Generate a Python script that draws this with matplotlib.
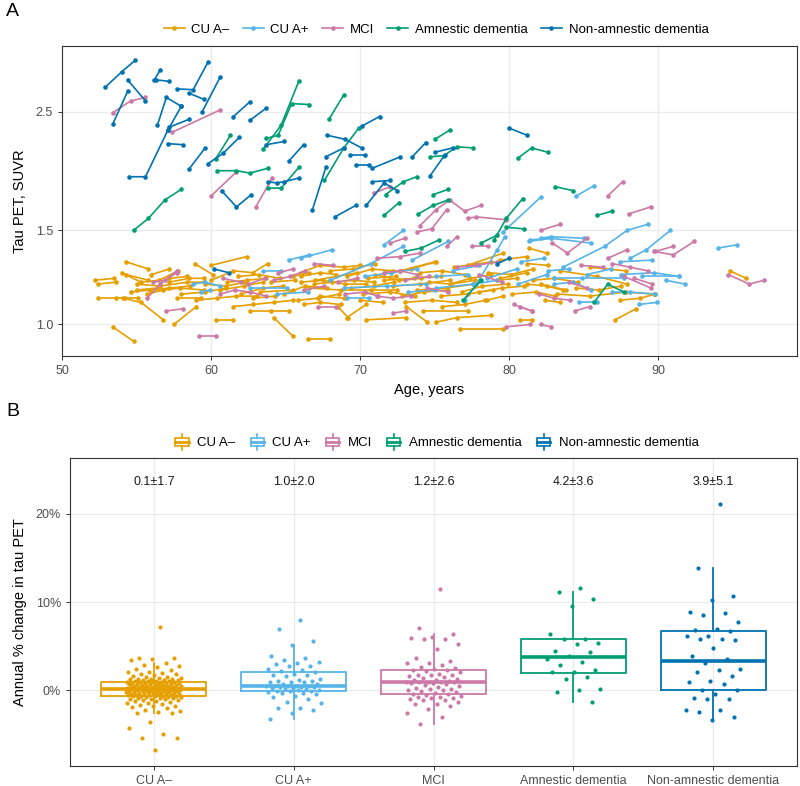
import numpy as np
import matplotlib
matplotlib.use("Agg")
import matplotlib.pyplot as plt
from matplotlib.lines import Line2D
from matplotlib.patches import Rectangle
from matplotlib.legend_handler import HandlerBase
import matplotlib.ticker as mticker

plt.rcParams['font.family'] = ['Liberation Sans', 'DejaVu Sans']

groups = ["CU A\u2013", "CU A+", "MCI", "Amnestic dementia", "Non-amnestic dementia"]
colors = ["#E69F00", "#56B4E9", "#CC79A7", "#009E73", "#0072B2"]

# --- Panel A: one list of (age, SUVR) visits per participant ---
traj_cu_neg = [
    [(54.3, 1.31), (55.8, 1.27)], [(52.2, 1.21), (53.5, 1.22)], [(52.4, 1.19), (53.6, 1.20)],
    [(54.0, 1.25), (55.3, 1.20), (56.5, 1.21), (57.8, 1.26)], [(54.3, 1.24), (55.8, 1.21)],
    [(52.4, 1.12), (53.6, 1.12), (54.2, 1.12), (55.1, 1.12)],
    [(54.6, 1.15), (55.9, 1.16), (57.2, 1.17), (58.6, 1.18)],
    [(54.1, 1.12), (55.3, 1.10), (56.8, 1.02)], [(57.5, 1.00), (59.0, 1.08)],
    [(58.9, 1.30), (60.1, 1.24)], [(60.0, 1.29), (62.4, 1.34)], [(60.3, 1.02), (61.5, 1.02)],
    [(53.4, 0.99), (54.8, 0.93)], [(55.7, 1.14), (56.8, 1.16), (57.9, 1.17), (59.5, 1.16)],
    [(55.0, 1.19), (56.6, 1.18), (58.4, 1.20), (59.5, 1.20)],
    [(59.0, 1.11), (60.4, 1.12), (61.7, 1.13), (63.1, 1.13)],
    [(61.5, 1.08), (62.8, 1.09), (64.2, 1.10), (65.5, 1.11)],
    [(62.6, 1.06), (64.0, 1.06), (65.2, 1.06)], [(64.2, 1.03), (65.5, 0.95)],
    [(60.0, 1.21), (61.5, 1.26), (62.8, 1.25), (63.8, 1.30)],
    [(60.6, 1.16), (62.2, 1.18), (63.5, 1.20)], [(66.2, 1.09), (67.3, 1.10), (68.7, 1.09)],
    [(68.5, 1.08), (69.2, 1.03)], [(70.4, 1.02), (73.1, 1.03)], [(74.2, 1.06), (77.2, 1.06)],
    [(73.1, 1.08), (74.5, 1.01)], [(75.1, 1.01), (76.5, 1.03), (78.8, 1.04)],
    [(76.7, 0.98), (79.6, 0.98)], [(87.1, 1.02), (88.5, 1.07)], [(81.3, 1.39), (82.5, 1.36)],
    [(81.2, 1.30), (82.6, 1.29)], [(79.4, 1.32), (81.2, 1.34)], [(72.7, 1.26), (75.0, 1.31)],
    [(66.0, 1.25), (67.3, 1.29), (68.9, 1.28), (70.0, 1.29)],
    [(66.0, 1.20), (67.5, 1.21), (69.0, 1.19), (70.4, 1.19)],
    [(66.6, 1.17), (68.7, 1.16), (70.7, 1.16), (72.5, 1.16)],
    [(69.1, 1.23), (70.8, 1.27), (72.2, 1.26)], [(71.6, 1.21), (73.6, 1.22), (75.4, 1.23)],
    [(73.8, 1.16), (75.8, 1.17), (77.6, 1.19)], [(75.4, 1.13), (77.2, 1.14), (78.9, 1.16)],
    [(76.3, 1.28), (78.8, 1.31)], [(78.5, 1.11), (79.6, 1.13)],
    [(83.4, 1.26), (85.9, 1.23), (87.9, 1.19)], [(85.4, 1.28), (87.8, 1.26)],
    [(81.2, 1.19), (82.5, 1.18), (83.6, 1.16)], [(82.4, 1.11), (83.4, 1.10)],
    [(83.2, 1.14), (85.4, 1.13), (87.8, 1.15), (89.7, 1.14)],
    [(87.4, 1.11), (88.8, 1.12), (89.8, 1.14)], [(80.7, 1.02), (81.5, 1.02)],
    [(94.8, 1.26), (95.9, 1.22)], [(82.1, 1.19), (83.8, 1.16)], [(66.5, 0.94), (68.0, 0.94)],
    [(69.1, 1.03), (70.4, 1.09)], [(66.0, 1.23), (67.3, 1.25), (68.4, 1.24)],
    [(66.9, 1.19), (68.1, 1.20), (69.6, 1.21), (70.9, 1.20)], [(67.3, 1.13), (68.9, 1.12)],
    [(71.6, 1.25), (73.4, 1.27), (75.1, 1.31)], [(77.2, 1.29), (79.6, 1.36)],
    [(72.2, 1.18), (74.0, 1.19), (76.0, 1.21)], [(79.4, 1.22), (81.2, 1.25)],
    [(55.0, 1.16), (56.4, 1.17)], [(57.2, 1.20), (58.5, 1.22), (59.5, 1.22)],
    [(57.7, 1.12), (59.3, 1.12)], [(61.1, 1.20), (62.4, 1.21), (63.7, 1.22)],
    [(63.3, 1.15), (65.5, 1.16)], [(65.5, 1.23), (66.6, 1.25)], [(57.2, 1.22), (58.4, 1.23)],
    [(79.2, 1.21), (80.5, 1.22)], [(62.0, 1.14), (63.5, 1.17), (64.8, 1.18)],
    [(68.0, 1.26), (69.5, 1.27), (71.0, 1.30)], [(70.2, 1.14), (72.0, 1.15), (73.7, 1.13)],
    [(74.0, 1.25), (75.5, 1.26), (77.0, 1.24)], [(76.0, 1.19), (77.4, 1.22), (78.8, 1.24)],
    [(78.0, 1.15), (79.5, 1.17), (81.0, 1.18)], [(56.0, 1.24), (57.2, 1.27)],
    [(58.0, 1.14), (59.6, 1.15), (61.0, 1.17)], [(64.0, 1.20), (65.6, 1.21)],
    [(84.5, 1.17), (86.0, 1.16), (87.5, 1.18)], [(70.5, 1.22), (72.4, 1.23)],
    [(73.0, 1.10), (74.8, 1.11), (76.5, 1.10)],
    [(61.8, 1.23), (63.2, 1.24), (64.6, 1.22)], [(64.9, 1.14), (66.3, 1.18), (67.8, 1.17)],
    [(67.0, 1.21), (68.4, 1.23), (69.8, 1.25)], [(69.4, 1.17), (70.9, 1.18), (72.3, 1.20)],
    [(71.0, 1.24), (72.6, 1.21), (74.1, 1.22)], [(72.8, 1.13), (74.3, 1.15), (75.9, 1.16)],
    [(74.6, 1.20), (76.1, 1.19), (77.7, 1.21)], [(76.8, 1.15), (78.2, 1.18), (79.9, 1.19)],
    [(78.6, 1.25), (80.1, 1.24), (81.6, 1.27)], [(80.2, 1.14), (81.8, 1.15), (83.1, 1.13)],
    [(62.8, 1.12), (64.3, 1.13)], [(59.6, 1.19), (61.0, 1.18), (62.3, 1.20)],
    [(65.8, 1.11), (67.2, 1.12), (68.6, 1.14)], [(70.0, 1.11), (71.5, 1.10)],
    [(75.5, 1.08), (77.0, 1.09), (78.4, 1.11)], [(81.6, 1.21), (83.0, 1.22), (84.6, 1.20)],
]

traj_cu_pos = [
    [(84.5, 1.74), (85.7, 1.82)], [(83.6, 1.28), (86.4, 1.40), (87.9, 1.50), (89.3, 1.54)],
    [(87.4, 1.31), (89.6, 1.32)], [(88.1, 1.33), (89.2, 1.38), (90.8, 1.50)],
    [(87.5, 1.24), (89.7, 1.25), (91.4, 1.23)], [(90.5, 1.21), (91.8, 1.19)],
    [(94.0, 1.39), (95.3, 1.41)], [(86.9, 1.15), (88.1, 1.15), (89.8, 1.14)],
    [(84.7, 1.10), (85.9, 1.10)], [(88.7, 1.09), (89.9, 1.10)],
    [(82.1, 1.45), (82.8, 1.46), (85.0, 1.45)], [(83.0, 1.19), (84.3, 1.20), (85.5, 1.16)],
    [(83.0, 1.22), (84.9, 1.22), (87.7, 1.22)], [(79.6, 1.49), (82.1, 1.73)],
    [(81.4, 1.44), (82.8, 1.45), (85.5, 1.42)], [(88.9, 1.23), (91.4, 1.23)],
    [(66.0, 1.33), (68.1, 1.38)], [(68.0, 1.21), (70.7, 1.30), (72.9, 1.40)],
    [(73.5, 1.32), (75.9, 1.43)], [(69.1, 1.12), (70.6, 1.12)],
    [(68.9, 1.17), (71.8, 1.18), (74.4, 1.19)], [(75.1, 1.17), (77.6, 1.19), (79.2, 1.21)],
    [(77.0, 1.11), (77.8, 1.19), (79.2, 1.38), (79.7, 1.46)], [(81.3, 1.43), (82.8, 1.45)],
    [(78.5, 1.22), (80.5, 1.27)], [(80.6, 1.19), (82.5, 1.24)], [(75.1, 1.23), (77.2, 1.24)],
    [(58.8, 1.19), (59.6, 1.20), (60.6, 1.18)], [(59.3, 1.15), (59.9, 1.16)],
    [(63.5, 1.26), (64.7, 1.26)], [(62.6, 1.17), (65.1, 1.17)], [(65.2, 1.32), (66.6, 1.35)],
    [(64.4, 1.14), (66.5, 1.15)], [(71.6, 1.41), (72.9, 1.50)], [(82.6, 1.26), (84.0, 1.27)],
    [(70.3, 1.23), (72.1, 1.25), (73.8, 1.27)], [(73.2, 1.15), (75.0, 1.16)],
    [(76.2, 1.26), (78.0, 1.29)], [(80.8, 1.31), (82.3, 1.33)], [(85.2, 1.24), (86.8, 1.27)],
]

traj_mci = [
    [(53.4, 2.49), (54.6, 2.62), (55.6, 2.66)], [(57.4, 2.29), (60.6, 2.52)],
    [(60.0, 1.74), (61.7, 1.93)], [(63.0, 1.66), (64.1, 1.88)], [(70.9, 1.76), (72.0, 1.81)],
    [(74.0, 1.53), (75.1, 1.64), (76.0, 1.71), (77.0, 1.63), (78.1, 1.67)],
    [(73.8, 1.49), (74.8, 1.51), (75.8, 1.64)], [(77.2, 1.58), (77.8, 1.59), (79.8, 1.57)],
    [(86.6, 1.74), (87.6, 1.85)], [(88.0, 1.61), (89.5, 1.66)], [(82.1, 1.50), (83.4, 1.54)],
    [(82.9, 1.42), (83.9, 1.36), (85.2, 1.45)], [(86.6, 1.33), (87.9, 1.38)],
    [(89.7, 1.37), (91.0, 1.35), (92.4, 1.43)], [(89.8, 1.37), (91.0, 1.40)],
    [(94.7, 1.24), (96.1, 1.19), (97.1, 1.21)], [(84.8, 1.29), (86.3, 1.28)],
    [(86.9, 1.30), (88.1, 1.28), (89.3, 1.26)], [(87.7, 1.23), (89.5, 1.17)],
    [(84.4, 1.06), (85.4, 1.08)], [(82.1, 1.00), (82.8, 0.99)],
    [(82.0, 1.14), (83.0, 1.12), (84.1, 1.11)], [(80.7, 1.08), (81.5, 1.06)],
    [(72.0, 1.42), (73.0, 1.45)], [(71.1, 1.33), (72.7, 1.34), (74.0, 1.36)],
    [(67.2, 1.08), (68.4, 1.08)], [(80.3, 1.09), (81.5, 1.06)], [(79.8, 0.99), (81.4, 1.00)],
    [(75.8, 1.40), (76.5, 1.46)], [(77.5, 1.40), (78.6, 1.40)],
    [(71.6, 1.25), (72.7, 1.26), (73.8, 1.24)], [(71.1, 1.13), (72.2, 1.12), (73.4, 1.13)],
    [(76.5, 1.28), (77.8, 1.29), (79.2, 1.31)], [(72.2, 1.05), (73.1, 1.06)],
    [(55.7, 1.12), (56.6, 1.19), (57.7, 1.26)], [(56.1, 1.20), (56.9, 1.21), (57.7, 1.25)],
    [(57.0, 1.06), (58.1, 1.07)], [(59.2, 0.95), (60.3, 0.95)],
    [(60.6, 1.14), (61.6, 1.16), (62.6, 1.15), (63.7, 1.13)],
    [(64.2, 1.21), (65.3, 1.23), (66.3, 1.26)], [(64.5, 1.25), (65.5, 1.27)],
    [(66.9, 1.30), (68.2, 1.29)], [(68.5, 1.20), (69.8, 1.22)], [(74.5, 1.17), (75.9, 1.15)],
    [(78.0, 1.24), (79.5, 1.20)], [(69.0, 1.14), (70.3, 1.15), (71.2, 1.13)],
    [(62.5, 1.19), (63.6, 1.22)], [(84.0, 1.20), (85.2, 1.17)], [(88.4, 1.22), (89.6, 1.19)],
    [(60.8, 1.22), (62.0, 1.20)], [(66.2, 1.16), (67.6, 1.18)], [(73.0, 1.21), (74.6, 1.23)],
]

traj_amn = [
    [(54.8, 1.50), (55.8, 1.58), (56.9, 1.71), (58.0, 1.79)],
    [(60.4, 1.94), (61.7, 1.94), (62.6, 1.92), (63.8, 1.96)], [(60.3, 2.04), (61.3, 2.26)],
    [(63.5, 2.13), (64.7, 2.36), (65.9, 2.86)],
    [(63.7, 2.23), (64.5, 2.26), (65.4, 2.59), (66.6, 2.58)],
    [(63.8, 1.80), (64.7, 1.80), (65.9, 1.97)], [(67.9, 2.42), (68.9, 2.69)],
    [(67.6, 1.86), (68.9, 2.14), (69.9, 2.33)], [(71.6, 1.60), (72.6, 1.69)],
    [(71.7, 1.75), (72.9, 1.85), (73.8, 1.89)], [(75.0, 2.22), (76.0, 2.31)],
    [(74.7, 2.06), (75.6, 2.07), (76.5, 2.15), (77.6, 2.14)], [(74.9, 1.75), (75.9, 1.79)],
    [(73.9, 1.61), (74.9, 1.67), (75.9, 1.71)], [(80.6, 2.05), (81.5, 2.14), (82.6, 2.10)],
    [(79.0, 1.44), (79.8, 1.58), (80.9, 1.72)], [(79.8, 1.52), (81.0, 1.51)],
    [(83.1, 1.81), (84.3, 1.78)], [(85.9, 1.60), (86.9, 1.63)],
    [(85.7, 1.10), (86.6, 1.19), (87.7, 1.15)], [(73.0, 1.37), (74.1, 1.39), (75.3, 1.44)],
    [(76.9, 1.11), (78.1, 1.21)], [(78.1, 1.42), (79.2, 1.47)],
]

traj_nonamn = [
    [(52.9, 2.78), (54.0, 2.97), (54.9, 3.12)], [(53.4, 2.37), (54.4, 2.73)],
    [(54.4, 2.87), (55.6, 2.62)], [(56.2, 2.87), (56.6, 3.00)], [(56.3, 2.87), (57.2, 2.85)],
    [(56.4, 2.36), (57.0, 2.66), (58.0, 2.56)], [(57.7, 2.76), (58.8, 2.75), (59.8, 3.10)],
    [(58.5, 2.71), (59.5, 2.64)], [(57.1, 2.31), (58.0, 2.56)], [(57.2, 2.34), (58.5, 2.42)],
    [(59.4, 2.50), (60.6, 2.90)], [(54.5, 1.89), (55.6, 1.89), (57.1, 2.31)],
    [(57.1, 2.18), (58.1, 2.17)], [(58.5, 1.95), (59.6, 2.14)], [(61.5, 2.45), (62.6, 2.61)],
    [(62.6, 2.41), (63.7, 2.54)], [(59.8, 2.00), (60.8, 2.09), (61.9, 2.24)],
    [(60.7, 1.78), (61.7, 1.66), (62.7, 1.75)], [(63.7, 2.17), (64.9, 2.20)],
    [(65.2, 2.02), (66.2, 2.17)], [(63.8, 1.85), (64.4, 1.84), (64.9, 1.85), (65.9, 1.88)],
    [(67.8, 2.26), (69.0, 2.22), (70.1, 2.14)], [(67.7, 2.06), (68.9, 2.14)],
    [(70.1, 2.35), (71.3, 2.45)], [(69.3, 2.08), (70.3, 2.08)], [(66.8, 1.64), (67.7, 1.97)],
    [(69.7, 1.99), (70.6, 1.99)], [(70.8, 1.96), (72.7, 2.06)], [(73.5, 2.06), (74.4, 2.19)],
    [(75.0, 2.10), (76.2, 2.14)], [(74.7, 1.90), (75.7, 2.08)], [(68.3, 1.59), (69.7, 1.67)],
    [(70.4, 1.67), (71.6, 1.84), (72.5, 1.78)], [(70.8, 1.85), (72.0, 1.86)],
    [(80.0, 2.33), (81.2, 2.26)], [(79.2, 1.30), (80.0, 1.33)], [(60.2, 1.27), (61.2, 1.25)],
]

# --- Panel B: annual % change in tau PET per participant ---
chg_cu_neg = [
    7.2, 3.7, 3.7, 3.6, 3.5, 3.05, 2.9, 2.8, 2.6, 2.4, 2.35, 2.1, 2.05, 2.0, 1.9, 1.85, 1.7,
    1.62, 1.55, 1.5, 1.44, 1.38, 1.3, 1.3, 1.27, 1.25, 1.2, 1.16, 1.15, 1.12, 1.1, 1.06, 1.04,
    1.01, 1.0,
    0.97, 0.93, 0.9, 0.88, 0.86, 0.84, 0.8, 0.77, 0.74, 0.72, 0.7, 0.69, 0.65, 0.61, 0.6, 0.57,
    0.55, 0.53, 0.5, 0.48, 0.46, 0.44, 0.43, 0.41, 0.38, 0.36, 0.35, 0.33, 0.31, 0.3, 0.28,
    0.26, 0.24, 0.23,
    0.21, 0.17, 0.15, 0.12, 0.1, 0.08, 0.06, 0.05, 0.03, 0.0, -0.02, -0.05, -0.07, -0.1, -0.12,
    -0.13, -0.15, -0.18, -0.2, -0.23, -0.25, -0.26, -0.3, -0.32, -0.35, -0.38, -0.4, -0.43,
    -0.45, -0.47, -0.5, -0.52, -0.55, -0.58, -0.6,
    -0.62, -0.64, -0.66, -0.7, -0.73, -0.78, -0.8, -0.85, -0.9, -0.95, -1.0, -1.0, -1.05, -1.1,
    -1.15, -1.2, -1.3, -1.4, -1.45, -1.55, -1.7, -1.75, -1.8, -1.9, -2.0, -2.2, -2.3, -2.4,
    -2.5, -2.5, -3.6, -4.2, -4.9, -5.4, -5.4, -6.7,
]
chg_cu_pos = [
    8.0, 6.9, 5.6, 5.1, 3.9, 3.7, 3.4, 3.2, 3.1, 3.0, 2.8, 2.75, 2.45, 2.3, 2.2, 2.1, 1.9, 1.8,
    1.8, 1.6, 1.25, 1.2, 1.1, 1.06, 0.95, 0.9, 0.9, 0.75, 0.7, 0.52, 0.55, 0.5, 0.48, 0.45, 0.4,
    0.38, 0.35, 0.3, 0.26, 0.2, 0.15, 0.1, 0.05, -0.04, -0.08, -0.1, -0.2, -0.34, -0.34, -0.4,
    -0.64, -0.7, -0.94, -1.36, -1.43, -1.96, -2.0, -2.2, -2.57, -3.2,
]
chg_mci = [
    11.5, 7.06, 6.4, 6.0, 5.9, 5.85, 5.8, 5.2, 4.7, 3.7, 3.3, 3.1, 3.06, 2.9, 2.6, 2.5, 2.4,
    2.35, 2.3, 2.2, 2.1, 1.9, 1.8, 1.75, 1.7, 1.6, 1.5, 1.4, 1.3, 1.2, 1.15, 1.1, 1.0, 0.97,
    0.95, 0.93, 0.9, 0.85, 0.8, 0.7, 0.6, 0.5, 0.4, 0.3, 0.2, 0.15, 0.1, 0.0, -0.04, -0.15,
    -0.25, -0.35, -0.4, -0.5, -0.6, -0.7, -0.75, -0.8, -0.9, -1.0, -1.1, -1.1, -1.3, -1.5,
    -1.5, -1.8, -2.1, -2.5, -3.0, -3.85,
]
chg_amn = [
    11.6, 11.1, 10.3, 9.5, 6.4, 5.85, 5.8, 5.4, 5.3, 4.45, 4.3, 3.9, 3.6, 3.2, 2.9, 2.3, 2.1,
    2.1, 1.55, 1.3, 0.15, 0.04, -0.15, -1.36,
]
chg_nonamn = [
    21.06, 13.8, 10.7, 10.2, 8.9, 8.8, 8.5, 7.8, 6.9, 6.8, 6.7, 6.15, 6.15, 5.8, 5.8, 5.7, 4.8,
    3.9, 3.55, 3.1, 2.4, 2.3, 2.1, 1.6, 1.1, 0.94, 0.72, 0.04, 0.04, -0.45, -0.9, -0.94, -1.0,
    -2.2, -2.2, -2.4, -3.0, -3.36,
]
summary_labels = ["0.1\u00b11.7", "1.0\u00b12.0", "1.2\u00b12.6", "4.2\u00b13.6", "3.9\u00b15.1"]

trajectories = [traj_cu_neg, traj_cu_pos, traj_mci, traj_amn, traj_nonamn]
changes = [chg_cu_neg, chg_cu_pos, chg_mci, chg_amn, chg_nonamn]

W, H = 800, 786
fig = plt.figure(figsize=(W / 100, H / 100), dpi=100)

border = "#333333"
gridc = "#EBEBEB"
tickc = "#4D4D4D"


def style_axes(ax):
    for s in ax.spines.values():
        s.set_color(border)
        s.set_linewidth(0.8)
    ax.grid(True, color=gridc, lw=0.9, zorder=0)
    ax.set_axisbelow(True)
    ax.tick_params(length=3, width=0.7, color=border, labelcolor=tickc, labelsize=9)


# ---------------- Panel A ----------------
axA = fig.add_axes([62 / W, 1 - 356 / H, (797 - 62) / W, (356 - 46) / H])
style_axes(axA)
for trajs, c in zip(trajectories, colors):
    for subj in trajs:
        ages = [p[0] for p in subj]
        suvr = [p[1] for p in subj]
        axA.plot(ages, suvr, '-o', color=c, lw=1.2, ms=3.3, mew=0, zorder=3)
axA.set_yscale('log')
axA.set_xlim(50, 99.3)
axA.set_ylim(0.873, 3.32)
axA.set_yticks([1.0, 1.5, 2.5])
axA.yaxis.set_major_formatter(mticker.FixedFormatter(["1.0", "1.5", "2.5"]))
axA.yaxis.set_minor_locator(mticker.NullLocator())
axA.set_xticks([50, 60, 70, 80, 90])
axA.set_xlabel("Age, years", fontsize=10.5, labelpad=4)
axA.set_ylabel("Tau PET, SUVR", fontsize=10.5, labelpad=6)

handlesA = [Line2D([], [], color=c, lw=1.2, marker='o', ms=3.3, mew=0) for c in colors]
fig.legend(handlesA, groups, loc='center', bbox_to_anchor=(0.545, 1 - 30 / H), ncol=5,
           frameon=False, fontsize=9.5, handlelength=1.6, handletextpad=0.5, columnspacing=1.0)
fig.text(6 / W, 1 - 12 / H, "A", fontsize=14, va='center', ha='left')


# ---------------- Panel B ----------------
class BoxHandler(HandlerBase):
    def create_artists(self, legend, orig_handle, xdescent, ydescent, width, height,
                       fontsize, trans):
        c = orig_handle.get_color()
        x0, y0 = -xdescent, -ydescent
        cx = x0 + width / 2
        box = Rectangle((x0 + 0.12 * width, y0 + 0.25 * height), 0.76 * width, 0.5 * height,
                        fill=False, ec=c, lw=1.2, transform=trans)
        w1 = Line2D([cx, cx], [y0, y0 + 0.25 * height], color=c, lw=1.2, transform=trans)
        w2 = Line2D([cx, cx], [y0 + 0.75 * height, y0 + height], color=c, lw=1.2,
                    transform=trans)
        med = Line2D([x0 + 0.12 * width, x0 + 0.88 * width], [y0 + 0.5 * height] * 2,
                     color=c, lw=2.0, transform=trans)
        return [box, w1, w2, med]


axB = fig.add_axes([70 / W, 1 - 766 / H, (797 - 70) / W, (766 - 458) / H])
style_axes(axB)
for i, (vals, c) in enumerate(zip(changes, colors)):
    pos = i + 1
    axB.boxplot(vals, positions=[pos], widths=0.75, showfliers=False, showcaps=False,
                whis=1.5, manage_ticks=False,
                boxprops=dict(color=c, lw=1.3), whiskerprops=dict(color=c, lw=1.3),
                medianprops=dict(color=c, lw=2.6), zorder=2)
    n = len(vals)
    jitter = (((np.arange(n) + 1) * 0.618034) % 1 - 0.5) * 0.4
    axB.scatter(pos + jitter, vals, s=9, color=c, linewidths=0, zorder=3)
    axB.text(pos, 23.6, summary_labels[i], ha='center', va='center', fontsize=9,
             color='#1A1A1A')
axB.set_xlim(0.4, 5.6)
axB.set_ylim(-8.55, 26.3)
axB.set_xticks(range(1, 6))
axB.set_xticklabels(groups)
axB.set_yticks([0, 10, 20])
axB.yaxis.set_major_formatter(mticker.FuncFormatter(lambda v, p: f"{v:.0f}%"))
axB.set_ylabel("Annual % change in tau PET", fontsize=10.5, labelpad=6)

handlesB = [Line2D([], [], color=c) for c in colors]
fig.legend(handlesB, groups, loc='center', bbox_to_anchor=(0.545, 1 - 442 / H), ncol=5,
           frameon=False, fontsize=9.5, handlelength=1.3, handleheight=1.6,
           handletextpad=0.5, columnspacing=1.0,
           handler_map={Line2D: BoxHandler()})
fig.text(6 / W, 1 - 412 / H, "B", fontsize=14, va='center', ha='left')

fig.savefig("out.png", dpi=100)
